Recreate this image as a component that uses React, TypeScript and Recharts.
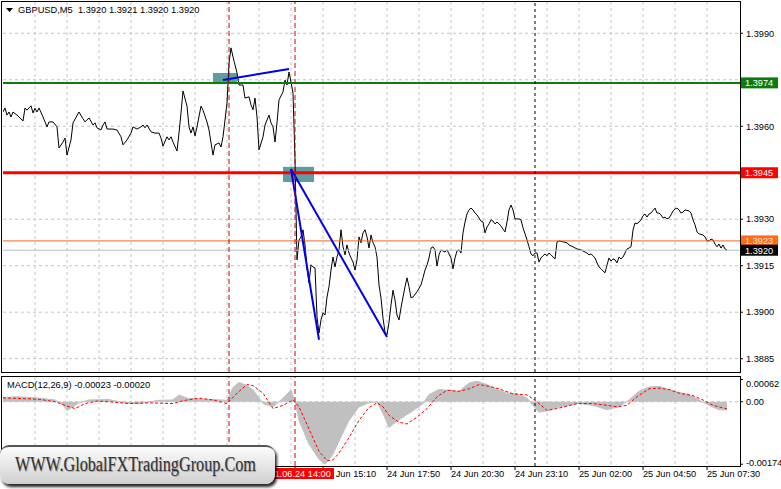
import React from 'react';
import {
  ComposedChart,
  Line,
  Area,
  XAxis,
  YAxis,
  CartesianGrid,
  ReferenceLine,
  ReferenceArea,
} from 'recharts';

const FONT = '"Liberation Sans", Arial, sans-serif';

const symbolHeader = 'GBPUSD,M5  1.3920 1.3921 1.3920 1.3920';
const macdHeader = 'MACD(12,26,9) -0.00023 -0.00020';
const watermarkText = 'WWW.GlobalFXTradingGroup.Com';

// [bar index from the left edge, close] - M5 bars
const closes: [number, number][] = [
  [0, 1.39646], [1, 1.39659], [2, 1.39636], [3, 1.39646], [4, 1.3963], [5, 1.39646], [7, 1.39636], [8, 1.3963],
  [10, 1.39617], [11, 1.39659], [12, 1.39652], [14, 1.39666], [15, 1.39643], [16, 1.39658], [17, 1.39646], [18, 1.39659],
  [20, 1.3963], [21, 1.39614], [22, 1.39598], [23, 1.39614], [25, 1.39614], [27, 1.39598], [28, 1.3953], [30, 1.39549],
  [31, 1.39562], [32, 1.39507], [34, 1.39556], [35, 1.39611], [38, 1.39646], [40, 1.39624], [41, 1.39614], [43, 1.39627],
  [45, 1.39604], [46, 1.39611], [47, 1.39595], [49, 1.39588], [50, 1.39604], [51, 1.39614], [52, 1.39591], [55, 1.39591],
  [57, 1.39588], [59, 1.39566], [60, 1.3954], [62, 1.39556], [64, 1.39578], [65, 1.39598], [67, 1.39591], [69, 1.39598],
  [70, 1.39604], [71, 1.39595], [72, 1.39604], [74, 1.39582], [76, 1.39578], [78, 1.39578], [79, 1.39562], [80, 1.39536],
  [82, 1.39566], [83, 1.39556], [84, 1.39566], [85, 1.39549], [87, 1.3952], [88, 1.39578], [89, 1.39643], [90, 1.39714],
  [92, 1.39665], [93, 1.39598], [94, 1.39578], [95, 1.39598], [96, 1.39569], [97, 1.39598], [99, 1.39665], [100, 1.39652],
  [102, 1.39614], [103, 1.39588], [105, 1.39507], [106, 1.3954], [108, 1.39546], [109, 1.39533], [110, 1.39566], [111, 1.3962],
  [112, 1.39675], [113, 1.39804], [114, 1.39853], [115, 1.39824], [117, 1.39772], [118, 1.39733], [120, 1.39733], [121, 1.39691],
  [123, 1.39695], [124, 1.39669], [125, 1.39653], [126, 1.39691], [127, 1.3963], [128, 1.39524], [130, 1.39566], [131, 1.39604],
  [133, 1.39636], [134, 1.39611], [135, 1.39598], [136, 1.39549], [137, 1.39611], [138, 1.39685], [140, 1.39711], [141, 1.39749],
  [142, 1.39733], [143, 1.39775], [144, 1.39743], [145, 1.39707], [146, 1.39494], [147, 1.39169], [148, 1.39233], [149, 1.39243],
  [150, 1.39266], [151, 1.39217], [152, 1.39143], [153, 1.39095], [154, 1.39153], [155, 1.39146], [156, 1.39143], [157, 1.38985],
  [158, 1.38933], [159, 1.38975], [160, 1.38998], [161, 1.38991], [162, 1.39049], [163, 1.39082], [164, 1.39136], [165, 1.39178],
  [166, 1.39146], [167, 1.39178], [168, 1.39201], [169, 1.39266], [170, 1.39211], [171, 1.39185], [172, 1.39217], [173, 1.39191],
  [174, 1.39175], [175, 1.39162], [176, 1.39136], [177, 1.39169], [178, 1.39243], [179, 1.39224], [180, 1.39256], [181, 1.39266],
  [182, 1.39243], [183, 1.39207], [184, 1.39249], [185, 1.39224], [186, 1.39211], [187, 1.39178], [188, 1.39088], [189, 1.39046],
  [190, 1.38981], [191, 1.38936], [192, 1.38927], [193, 1.38968], [194, 1.39023], [195, 1.39071], [196, 1.39039], [197, 1.38991],
  [198, 1.38975], [199, 1.39014], [200, 1.39049], [201, 1.39082], [202, 1.39111], [203, 1.39082], [204, 1.39046], [205, 1.39049],
  [207, 1.39066], [209, 1.39088], [210, 1.39111], [211, 1.39136], [212, 1.39152], [213, 1.39175], [214, 1.39207], [215, 1.39211],
  [216, 1.39201], [217, 1.39149], [218, 1.39185], [219, 1.39201], [221, 1.39194], [222, 1.39201], [223, 1.39188], [224, 1.39175],
  [225, 1.3914], [226, 1.39175], [227, 1.39198], [228, 1.39201], [229, 1.39191], [230, 1.39256], [231, 1.39291], [232, 1.39317],
  [233, 1.3933], [234, 1.39336], [235, 1.3933], [236, 1.3932], [237, 1.39314], [238, 1.39304], [239, 1.39294], [240, 1.39291],
  [241, 1.39256], [242, 1.39275], [243, 1.39285], [244, 1.39298], [245, 1.39294], [246, 1.39285], [247, 1.39291], [248, 1.39285],
  [249, 1.39278], [250, 1.39268], [251, 1.39259], [252, 1.39291], [253, 1.3933], [254, 1.39346], [255, 1.3933], [256, 1.39301],
  [258, 1.39301], [259, 1.39298], [260, 1.39272], [261, 1.39253], [262, 1.39233], [263, 1.39211], [264, 1.39188], [265, 1.39182],
  [266, 1.39191], [267, 1.39191], [268, 1.39162], [269, 1.39175], [270, 1.39182], [271, 1.39188], [272, 1.39182], [273, 1.39191],
  [274, 1.39185], [276, 1.39172], [277, 1.39227], [278, 1.3923], [280, 1.39227], [282, 1.39224], [283, 1.39217], [285, 1.39211],
  [287, 1.39204], [289, 1.39201], [291, 1.39194], [292, 1.39191], [293, 1.39185], [294, 1.39188], [295, 1.39182], [296, 1.39175],
  [297, 1.39159], [298, 1.39146], [299, 1.3914], [300, 1.39133], [301, 1.39127], [302, 1.39152], [303, 1.39175], [304, 1.39165],
  [305, 1.39172], [306, 1.39169], [307, 1.39159], [308, 1.39178], [309, 1.39172], [310, 1.39178], [311, 1.39191], [312, 1.39204],
  [313, 1.39207], [314, 1.39211], [315, 1.39265], [316, 1.39288], [317, 1.39285], [318, 1.39291], [319, 1.39298], [320, 1.39311],
  [321, 1.39317], [322, 1.39307], [323, 1.39317], [324, 1.3932], [326, 1.39336], [327, 1.3932], [328, 1.3932], [329, 1.39314],
  [330, 1.39304], [331, 1.39307], [332, 1.39301], [333, 1.39304], [334, 1.39314], [335, 1.39327], [336, 1.39333], [337, 1.39336],
  [338, 1.3933], [339, 1.3932], [340, 1.39323], [341, 1.3933], [343, 1.39327], [344, 1.3932], [345, 1.39298], [346, 1.39282],
  [347, 1.39259], [348, 1.39253], [350, 1.39249], [351, 1.39243], [352, 1.3923], [353, 1.3923], [354, 1.39236], [355, 1.39233],
  [356, 1.3922], [357, 1.39211], [358, 1.3922], [359, 1.39207], [360, 1.39217], [361, 1.39204], [362, 1.392],
];

// MACD main (histogram) and signal, [bar, value]
const macdHist: [number, number][] = [
  [0, 0.00012], [8, 0.00014], [18, 0.0001], [26, 0.00005], [30, -0.00008], [32, -0.00024], [35, -0.00014], [38, -0.00003],
  [43, 0.00005], [53, 0.00006], [62, -0.00004], [68, -0.00005], [78, 0.00004], [85, 0.00005], [88, 0.00019], [92, 0.0001],
  [98, 0.00008], [105, 0.00006], [112, 0.00004], [115, 0.0004], [118, 0.00054], [122, 0.00045], [125, 0.00033], [130, -0.00005],
  [135, -0.00014], [140, 0.0001], [144, 0.00033], [146, 0], [148, -0.00052], [153, -0.00118], [158, -0.0016], [161, -0.00174],
  [165, -0.00146], [168, -0.00109], [173, -0.00052], [178, -0.00014], [183, -0.00003], [187, 0], [190, -0.00033], [193, -0.00071],
  [198, -0.0005], [205, -0.00025], [210, -0.00005], [213, 0.0002], [218, 0.00034], [223, 0.00032], [228, 0.00029], [233, 0.00052],
  [237, 0.00057], [242, 0.00048], [247, 0.00034], [252, 0.00024], [257, 0.00022], [262, 0.0001], [265, -0.0001], [268, -0.00029],
  [273, -0.00024], [278, -0.00014], [283, -0.0001], [288, -0.00005], [295, -0.0001], [302, -0.00022], [308, -0.00014], [313, 0.00005],
  [318, 0.00029], [323, 0.00041], [328, 0.00043], [333, 0.00034], [338, 0.00026], [343, 0.0002], [348, 0.00005], [353, -0.0001],
  [358, -0.00022], [362, -0.00023],
];

const macdSignal: [number, number][] = [
  [0, 0.00011], [18, 0.00007], [26, 0], [32, -0.00012], [36, -0.00019], [41, -0.00005], [47, 0.00002], [53, 0],
  [63, -0.00005], [73, -0.00003], [85, -0.00005], [90, 0.00003], [98, 0.0001], [105, 0.00005], [112, -0.00005], [117, 0.00024],
  [122, 0.00048], [125, 0.00045], [130, 0.00024], [135, -0.00019], [140, -0.0001], [145, 0.00005], [148, -0.00014], [153, -0.00076],
  [158, -0.00138], [162, -0.00164], [165, -0.00162], [168, -0.00143], [173, -0.001], [178, -0.00052], [183, -0.00016], [187, -0.00003],
  [190, -0.00014], [193, -0.00038], [198, -0.00057], [202, -0.00062], [207, -0.00043], [212, -0.00019], [217, 0.00014], [222, 0.00032],
  [228, 0.00029], [233, 0.00036], [238, 0.00048], [243, 0.00043], [248, 0.00036], [255, 0.00022], [262, 0.00019], [267, 0],
  [272, -0.00024], [277, -0.00019], [282, -0.00012], [287, -0.00005], [295, -0.00005], [302, -0.0001], [307, -0.00014], [312, -0.0001],
  [317, 0.00014], [323, 0.00036], [328, 0.00038], [333, 0.00034], [338, 0.00024], [345, 0.00017], [350, 0.00005], [355, -0.0001],
  [362, -0.0002],
];

// horizontal levels: resistance, support, previous close, bid
const levelPrices = [1.3974, 1.3945, 1.3923, 1.392];

// trend lines [bar1, price1, bar2, price2]
const trendLines: [number, number, number, number][] = [
  [110, 1.39749, 143, 1.39785],
  [144, 1.39462, 158, 1.38911],
  [144, 1.39462, 192, 1.3892],
];

// entry zones [bar1, bar2, price1, price2]
const zoneBoxes: [number, number, number, number][] = [
  [105, 117, 1.39736, 1.39772],
  [140, 155.5, 1.3942, 1.39469],
];

const eventBars = [113, 146];
const eventLabel = '2021.06.24 14:00';
const daySeparatorBars = [266];

const priceTicks = [1.3885, 1.39, 1.3915, 1.393, 1.396, 1.399];
const priceGrid = [1.3885, 1.39, 1.3915, 1.393, 1.3945, 1.396, 1.3975, 1.399];
const timeTickBars = [160, 192, 224, 256, 288, 320, 352];
const timeTickLabels = [
  '24 Jun 15:10', '24 Jun 17:50', '24 Jun 20:30', '24 Jun 23:10',
  '25 Jun 02:00', '25 Jun 04:50', '25 Jun 07:30',
];
const macdTicks = [0.00062, 0, -0.00174];

const LEVEL_STYLE = [
  { stroke: '#0b7d0b', width: 2, box: '#0b7d0b', text: '#ffffff' },
  { stroke: '#ff0000', width: 3, box: '#ff0000', text: '#ffffff' },
  { stroke: '#ee6420', width: 1, box: '#ff6a14', text: '#ffe6d2' },
  { stroke: '#b7bfcc', width: 1, box: '#000000', text: '#ffffff' },
];

const X_DOMAIN: [number, number] = [0, 368.5];
const gridBars = Array.from({ length: 22 }, (_, i) => (i + 1) * 16);

const priceData = closes.map(([bar, close]) => ({ bar, close }));
const histData = macdHist.map(([bar, value]) => ({ bar, value }));
const signalData = macdSignal.map(([bar, value]) => ({ bar, value }));

const axisText = { fontSize: 9.2, fill: '#000', fontFamily: FONT };

const levelLabel = (i: number) => (props: any) => {
  const { x, y, width } = props.viewBox;
  const s = LEVEL_STYLE[i];
  return (
    <g>
      <rect x={x + width + 1} y={y - 5.5} width={37} height={11} fill={s.box} />
      <text x={x + width + 5} y={y + 3.3} fontSize={9.2} fontFamily={FONT} fill={s.text}>
        {levelPrices[i].toFixed(4)}
      </text>
    </g>
  );
};

// time labels; the highlighted event time is drawn last so it sits on top
const TimeTick = (props: any) => {
  const { x, y, payload } = props;
  if (payload.value === eventBars[1]) {
    return (
      <g>
        <rect x={x - 39} y={y - 4} width={78} height={11} fill="#ff0000" />
        <text x={x} y={y} dy={5} textAnchor="middle" {...axisText} fill="#fff">
          {eventLabel}
        </text>
      </g>
    );
  }
  const i = timeTickBars.indexOf(payload.value);
  return (
    <text x={x} y={y} dy={5} textAnchor="start" {...axisText}>
      {timeTickLabels[i]}
    </text>
  );
};

const MacdTick = (props: any) => {
  const { x, y, payload } = props;
  const v = payload.value as number;
  const yy = Math.min(Math.max(y, 10), 89);
  return (
    <text x={x} y={yy} dy={3.3} textAnchor="start" {...axisText}>
      {v === 0 ? '0.00' : v.toFixed(5)}
    </text>
  );
};

const App: React.FC = () => {
  return (
    <div style={{ position: 'absolute', left: 0, top: 0, width: 781, height: 489, background: '#fff', fontFamily: FONT, overflow: 'hidden' }}>
      {/* price window */}
      <div style={{ position: 'absolute', left: 0, top: 0 }}>
        <ComposedChart width={781} height={374} margin={{ top: 2, right: 0, bottom: 2, left: 3 }}>
          <XAxis type="number" dataKey="bar" domain={X_DOMAIN} allowDataOverflow hide />
          <YAxis
            orientation="right"
            type="number"
            domain={[1.38807, 1.40001]}
            allowDataOverflow
            ticks={priceTicks}
            interval={0}
            width={41}
            axisLine={false}
            tickSize={3}
            tickMargin={3}
            tickLine={{ stroke: '#000' }}
            tick={axisText}
            tickFormatter={(v: number) => v.toFixed(4)}
          />
          <CartesianGrid strokeDasharray="3 3" stroke="#c4c4c4" horizontalValues={priceGrid} verticalValues={gridBars} />
          {zoneBoxes.map(([b1, b2, p1, p2], i) => (
            <ReferenceArea key={'z' + i} x1={b1} x2={b2} y1={p1} y2={p2} fill="#5f9ea0" fillOpacity={1} stroke="none" />
          ))}
          <Line data={priceData} dataKey="close" type="linear" stroke="#000" strokeWidth={1} dot={false} isAnimationActive={false} />
          {levelPrices.map((p, i) => (
            <ReferenceLine key={'l' + i} y={p} stroke={LEVEL_STYLE[i].stroke} strokeWidth={LEVEL_STYLE[i].width} label={levelLabel(i)} />
          ))}
          {trendLines.map(([b1, p1, b2, p2], i) => (
            <ReferenceLine key={'t' + i} segment={[{ x: b1, y: p1 }, { x: b2, y: p2 }]} stroke="#0000e6" strokeWidth={2} />
          ))}
          {eventBars.map((b) => (
            <ReferenceLine key={'e' + b} x={b} stroke="#d40000" strokeDasharray="5 3" strokeWidth={1} />
          ))}
          {daySeparatorBars.map((b) => (
            <ReferenceLine key={'d' + b} x={b} stroke="#000" strokeDasharray="3 3" strokeWidth={1} />
          ))}
        </ComposedChart>
      </div>

      {/* MACD window */}
      <div style={{ position: 'absolute', left: 0, top: 374 }}>
        <ComposedChart width={781} height={115} margin={{ top: 3, right: 0, bottom: 0, left: 3 }}>
          <XAxis
            type="number"
            dataKey="bar"
            domain={X_DOMAIN}
            allowDataOverflow
            ticks={[...timeTickBars, eventBars[1]]}
            interval={0}
            height={23}
            axisLine={false}
            tickSize={4}
            tickLine={{ stroke: '#000' }}
            tick={TimeTick}
          />
          <YAxis
            orientation="right"
            type="number"
            domain={[-0.00179, 0.00069]}
            allowDataOverflow
            ticks={macdTicks}
            interval={0}
            width={41}
            axisLine={false}
            tickSize={3}
            tickMargin={3}
            tickLine={{ stroke: '#000' }}
            tick={MacdTick}
          />
          <CartesianGrid strokeDasharray="3 3" stroke="#c4c4c4" horizontalValues={[0]} verticalValues={gridBars} />
          <Area data={histData} dataKey="value" type="linear" baseValue={0} fill="#c0c0c0" fillOpacity={1} stroke="#c0c0c0" strokeWidth={1} dot={false} isAnimationActive={false} />
          <Line data={signalData} dataKey="value" type="linear" stroke="#ff0000" strokeWidth={1} strokeDasharray="3 2" dot={false} isAnimationActive={false} />
          {eventBars.map((b) => (
            <ReferenceLine key={'e' + b} x={b} stroke="#d40000" strokeDasharray="5 3" strokeWidth={1} />
          ))}
          {daySeparatorBars.map((b) => (
            <ReferenceLine key={'d' + b} x={b} stroke="#000" strokeDasharray="3 3" strokeWidth={1} />
          ))}
        </ComposedChart>
      </div>

      {/* window frames */}
      <div style={{ position: 'absolute', left: 1, top: 1, width: 740, height: 372, border: '1px solid #000', boxSizing: 'border-box', pointerEvents: 'none' }} />
      <div style={{ position: 'absolute', left: 1, top: 376, width: 740, height: 91, border: '1px solid #000', boxSizing: 'border-box', pointerEvents: 'none' }} />

      {/* headers */}
      <div style={{ position: 'absolute', left: 5, top: 4, fontSize: 9.3, color: '#000', whiteSpace: 'pre', lineHeight: '12px', display: 'flex', alignItems: 'center' }}>
        <svg width={9} height={8} style={{ marginRight: 4 }}>
          <polygon points="1,2 8,2 4.5,6" fill="#000" />
        </svg>
        {symbolHeader}
      </div>
      <div style={{ position: 'absolute', left: 7, top: 379, fontSize: 9.3, color: '#000', whiteSpace: 'pre', lineHeight: '12px' }}>
        {macdHeader}
      </div>

      {/* watermark */}
      <div
        style={{
          position: 'absolute',
          left: 0,
          top: 445,
          width: 275,
          height: 39,
          borderRadius: 9,
          background: 'linear-gradient(#fbfbfb, #e2e2e2 60%, #cfcfcf)',
          boxShadow: '2px 3px 3px rgba(0,0,0,0.85)',
          borderTop: '2px solid #555',
          boxSizing: 'border-box',
        }}
      >
        <div
          style={{
            position: 'absolute',
            left: 15,
            top: 6,
            fontFamily: '"Liberation Serif", "Times New Roman", serif',
            fontSize: 20,
            lineHeight: '22px',
            color: '#333',
            whiteSpace: 'pre',
            transform: 'scaleX(0.81)',
            transformOrigin: 'left center',
            textShadow: '1px 1px 1px #999',
          }}
        >
          {watermarkText}
        </div>
      </div>
    </div>
  );
};

export default App;
